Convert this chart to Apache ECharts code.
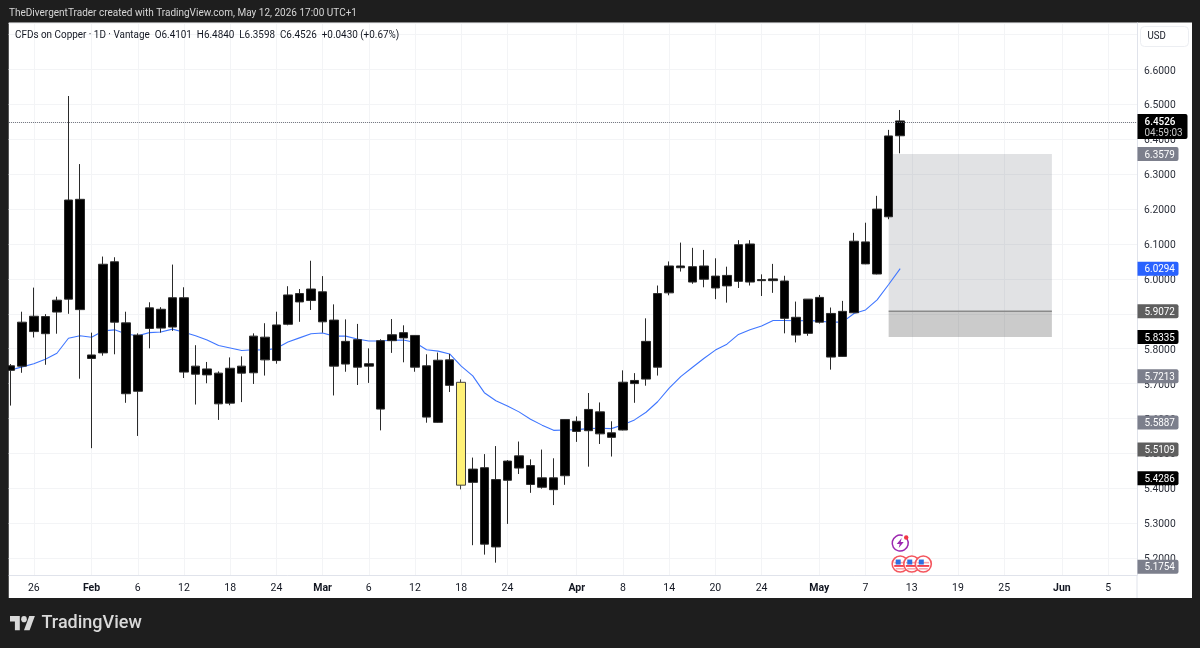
<!DOCTYPE html>
<html>
<head>
<meta charset="utf-8">
<style>html,body{margin:0;padding:0;background:#1e1e1e}#chart{width:1200px;height:648px}</style>
<script src="https://cdn.jsdelivr.net/npm/echarts@6/dist/echarts.min.js"></script>
</head>
<body>
<div id="chart"></div>
<script>
// Daily copper CFD candles, 20-period average, session tags and trade zones.
const categories = [
  'Jan 22','Jan 23','Jan 26','Jan 27','Jan 28','Jan 29','Jan 30',
  'Feb 2','Feb 3','Feb 4','Feb 5','Feb 6','Feb 9','Feb 10','Feb 11','Feb 12','Feb 13',
  'Feb 16','Feb 17','Feb 18','Feb 19','Feb 20','Feb 23','Feb 24','Feb 25','Feb 26','Feb 27',
  'Mar 2','Mar 3','Mar 4','Mar 5','Mar 6','Mar 9','Mar 10','Mar 11','Mar 12','Mar 13',
  'Mar 16','Mar 17','Mar 18','Mar 19','Mar 20','Mar 23','Mar 24','Mar 25','Mar 26','Mar 27',
  'Mar 30','Mar 31','Apr 1','Apr 2','Apr 6','Apr 7','Apr 8','Apr 9','Apr 10',
  'Apr 13','Apr 14','Apr 15','Apr 16','Apr 17','Apr 20','Apr 21','Apr 22','Apr 23','Apr 24',
  'Apr 27','Apr 28','Apr 29','Apr 30','May 1','May 4','May 5','May 6','May 7','May 8',
  'May 11','May 12','May 13','May 14','May 15','May 18','May 19','May 20','May 21','May 22',
  'May 25','May 26','May 27','May 28','May 29','Jun 1','Jun 2','Jun 3','Jun 4','Jun 5','Jun 8','Jun 9'
];

const tickLabels = {
  'Jan 26':'26','Feb 2':'Feb','Feb 6':'6','Feb 12':'12','Feb 18':'18','Feb 24':'24',
  'Mar 2':'Mar','Mar 6':'6','Mar 12':'12','Mar 18':'18','Mar 24':'24',
  'Apr 1':'Apr','Apr 8':'8','Apr 14':'14','Apr 20':'20','Apr 24':'24',
  'May 1':'May','May 7':'7','May 13':'13','May 19':'19','May 25':'25',
  'Jun 1':'Jun','Jun 5':'5'
};
const monthLabels = ['Feb','Mar','Apr','May','Jun'];

const opens = [5.738,5.750,5.849,5.892,5.905,5.942,6.228,5.772,5.788,6.049,5.874,5.678,5.858,5.859,5.862,5.946,5.750,
  5.742,5.730,5.644,5.730,5.836,5.768,5.766,5.870,5.934,5.938,5.963,5.882,5.821,5.747,5.750,5.823,5.840,5.831,5.838,
  5.604,5.767,5.695,5.7037,5.417,5.459,5.425,5.423,5.458,5.465,5.403,5.396,5.436,5.563,5.565,5.556,5.546,5.567,5.700,
  5.713,5.747,5.960,6.037,5.991,5.999,6.008,5.980,5.993,5.991,5.998,5.995,5.994,5.890,5.844,5.876,5.776,5.778,5.903,
  6.043,6.014,6.178,6.4101];
const closes = [5.751,5.876,5.893,5.843,5.939,6.226,5.912,5.782,6.042,5.876,5.671,5.839,5.917,5.913,5.946,5.733,5.727,
  5.725,5.642,5.744,5.750,5.731,5.833,5.868,5.954,5.958,5.971,5.877,5.750,5.756,5.826,5.757,5.627,5.823,5.846,5.747,
  5.751,5.589,5.768,5.409,5.455,5.240,5.232,5.478,5.493,5.411,5.430,5.430,5.597,5.592,5.626,5.619,5.559,5.704,5.709,
  5.821,5.958,6.037,6.032,6.035,6.037,5.974,6.010,6.098,6.100,5.995,6.000,5.887,5.839,5.942,5.947,5.901,5.907,6.108,
  6.106,6.200,6.4096,6.4526];
const lows = [5.637,5.731,5.832,5.754,5.843,5.900,5.714,5.515,5.780,5.784,5.645,5.550,5.801,5.846,5.851,5.716,5.640,
  5.701,5.596,5.638,5.647,5.699,5.723,5.757,5.867,5.877,5.911,5.846,5.666,5.734,5.696,5.702,5.566,5.788,5.761,5.734,
  5.588,5.588,5.676,5.397,5.237,5.210,5.187,5.298,5.441,5.387,5.399,5.352,5.410,5.533,5.462,5.527,5.491,5.566,5.645,
  5.694,5.723,5.953,6.021,5.986,5.976,5.942,5.932,5.974,5.981,5.951,5.960,5.844,5.818,5.837,5.872,5.740,5.777,5.902,
  6.042,6.013,6.171,6.3598];
const highs = [5.756,5.906,5.975,5.899,5.949,6.524,6.329,5.846,6.064,6.062,5.906,5.844,5.933,5.919,6.041,5.976,5.810,
  5.762,5.735,5.775,5.778,5.844,5.873,5.906,5.979,5.971,6.052,6.008,5.927,5.884,5.871,5.801,5.827,5.885,5.867,5.839,
  5.784,5.789,5.785,5.712,5.488,5.498,5.521,5.481,5.534,5.483,5.511,5.486,5.598,5.606,5.673,5.646,5.592,5.738,5.730,
  5.887,5.981,6.050,6.104,6.089,6.083,6.059,6.035,6.111,6.111,6.013,6.043,6.009,5.935,5.942,5.954,5.918,5.937,6.132,
  6.161,6.238,6.427,6.4840];
const movingAverage = [5.739,5.748,5.757,5.770,5.787,5.830,5.837,5.833,5.851,5.854,5.842,5.837,5.846,5.848,5.856,5.847,5.837,
  5.825,5.809,5.802,5.795,5.797,5.796,5.801,5.819,5.831,5.843,5.845,5.836,5.836,5.828,5.822,5.822,5.824,5.825,5.818,
  5.797,5.793,5.785,5.750,5.722,5.674,5.651,5.636,5.619,5.598,5.581,5.566,5.567,5.568,5.571,5.572,5.571,5.582,5.596,
  5.618,5.648,5.687,5.720,5.746,5.772,5.796,5.813,5.841,5.854,5.865,5.881,5.881,5.880,5.881,5.879,5.876,5.876,5.901,
  5.911,5.940,5.984,6.0294];

const highlightedBar = 39;
const lastPrice = 6.4526;
const countdown = '04:59:03';
const priceLevels = [6.3579,6.0294,5.9072,5.8335,5.7213,5.5887,5.5109,5.4286,5.1754];
const priceColors = ['#7c7f8c','#2962ff','#5f5f5f','#000000','#7c7f8c','#7c7f8c','#5f5f5f','#000000','#7c7f8c'];
const zoneBars = [76, 90];
const zoneTop = 6.3579, zoneMid = 5.9072, zoneBottom = 5.8335;
const boltEvent = [[77, 5.243]];
const flagEvents = [[77, 5.183],[78, 5.183],[79, 5.183]];

const FONT = 'Roboto, "Noto Sans", sans-serif';
const isLabelled = (i, name) => tickLabels[name] !== undefined;
const candleData = opens.map((o, i) => {
  const v = [o, closes[i], lows[i], highs[i]];
  return i === highlightedBar
    ? { value: v, itemStyle: { color: '#fff176', color0: '#fff176', borderColor: '#444', borderColor0: '#444' } }
    : v;
});

const chart = echarts.init(document.getElementById('chart'), null, { renderer: 'canvas' });
chart.setOption({
  animation: false,
  backgroundColor: '#1e1e1e',
  textStyle: { fontFamily: FONT },
  grid: { left: 4.92, width: 1132.1, top: 23, height: 552 },
  xAxis: {
    type: 'category',
    data: categories,
    boundaryGap: true,
    axisLine: { lineStyle: { color: '#e0e3eb' } },
    axisTick: { show: false },
    axisLabel: {
      interval: isLabelled,
      margin: 8,
      color: '#131722',
      fontSize: 10.5,
      formatter: name => {
        const t = tickLabels[name];
        return monthLabels.includes(t) ? '{m|' + t + '}' : t;
      },
      rich: { m: { fontWeight: 'bold', fontSize: 10.5, color: '#131722', fontFamily: FONT } }
    },
    splitLine: { show: true, interval: isLabelled, alignWithLabel: true, lineStyle: { color: '#f3f4f6' } }
  },
  yAxis: {
    type: 'value',
    position: 'right',
    min: 5.1516,
    max: 6.7332,
    splitNumber: 16,
    scale: true,
    axisLine: { show: true, lineStyle: { color: '#e0e3eb' } },
    axisTick: { show: false },
    axisLabel: {
      margin: 7,
      showMinLabel: false,
      showMaxLabel: false,
      formatter: v => '{p|' + v.toFixed(4) + '}',
      rich: { p: { color: '#2a2e39', fontSize: 10.3, fontFamily: FONT, padding: [3, 0, 0, 0] } }
    },
    splitLine: { show: true, lineStyle: { color: '#f3f4f6' } }
  },
  graphic: [
    { type: 'rect', z: -1, shape: { x: 8.5, y: 22.5, width: 1183.5, height: 575.5 }, style: { fill: '#ffffff' } },
    { type: 'rect', z: 100, shape: { x: 0, y: 22, width: 8.5, height: 576 }, style: { fill: '#1e1e1e' } },
    { type: 'line', z: 100, shape: { x1: 1137, y1: 575, x2: 1137, y2: 598 }, style: { stroke: '#e0e3eb', lineWidth: 1 } },
    { type: 'text', z: 100, x: 9, y: 13, scaleX: 0.87, style: { text: 'TheDivergentTrader created with TradingView.com, May 12, 2026 17:00 UTC+1', fill: '#d6d6d6', font: '11.5px ' + FONT, textVerticalAlign: 'middle' } },
    { type: 'text', z: 100, x: 15, y: 35.5, scaleX: 0.9, style: { text: 'CFDs on Copper · 1D · Vantage  O6.4101  H6.4840  L6.3598  C6.4526  +0.0430 (+0.67%)', fill: '#131722', font: '11px ' + FONT, textVerticalAlign: 'middle' } },
    { type: 'rect', z: 100, shape: { x: 1140.5, y: 26.5, width: 48, height: 20, r: 4 }, style: { fill: '#ffffff', stroke: '#eceef2', lineWidth: 1 } },
    { type: 'text', z: 100, x: 1147.5, y: 36.5, scaleX: 0.88, style: { text: 'USD', fill: '#131722', font: '11px ' + FONT, textVerticalAlign: 'middle' } },
    { type: 'group', x: 10, y: 613, scaleX: 0.7, scaleY: 0.78, children: [
      { type: 'polygon', z: 100, shape: { points: [[14,22],[7,22],[7,11],[0,11],[0,4],[14,4]] }, style: { fill: '#d9d9d9' } },
      { type: 'polygon', z: 100, shape: { points: [[28,22],[20,22],[27.5,4],[35.5,4]] }, style: { fill: '#d9d9d9' } },
      { type: 'circle', z: 100, shape: { cx: 20, cy: 8, r: 4 }, style: { fill: '#d9d9d9' } }
    ] },
    { type: 'text', z: 100, x: 41.5, y: 623.5, style: { text: 'TradingView', fill: '#d9d9d9', font: '500 18px ' + FONT, textVerticalAlign: 'middle' } }
  ],
  series: [
    {
      // shaded entry and stop zones, anchored to bars and prices
      type: 'custom',
      z: 1,
      silent: true,
      data: [[zoneBars[0], zoneBars[1], zoneTop, zoneMid, zoneBottom]],
      encode: { x: [0, 1], y: [2, 3, 4] },
      renderItem: (params, api) => {
        const a = api.coord([api.value(0), api.value(2)]);
        const b = api.coord([api.value(1), api.value(3)]);
        const c = api.coord([api.value(1), api.value(4)]);
        const w = b[0] - a[0] + 1.5;
        return { type: 'group', children: [
          { type: 'rect', shape: { x: a[0], y: a[1], width: w, height: b[1] - a[1] }, style: { fill: 'rgba(120,123,134,0.22)' } },
          { type: 'rect', shape: { x: a[0], y: b[1], width: w, height: c[1] - b[1] }, style: { fill: 'rgba(70,70,70,0.28)' } },
          { type: 'line', shape: { x1: a[0], y1: b[1], x2: a[0] + w, y2: b[1] }, style: { stroke: '#8a8a8a', lineWidth: 1.5 } }
        ] };
      }
    },
    {
      type: 'line',
      z: 2,
      data: movingAverage,
      symbol: 'none',
      silent: true,
      lineStyle: { color: '#3f76ff', width: 1.1 }
    },
    {
      type: 'candlestick',
      z: 3,
      data: candleData,
      barWidth: 9,
      itemStyle: { color: '#000000', color0: '#000000', borderColor: '#2a2a2a', borderColor0: '#2a2a2a', borderWidth: 1 },
      markLine: {
        silent: true,
        symbol: 'none',
        label: { show: false },
        lineStyle: { color: '#6a6d78', type: [1, 1], width: 1 },
        data: [{ yAxis: lastPrice }]
      }
    },
    {
      // price tags on the scale
      type: 'custom',
      z: 10,
      silent: true,
      data: priceLevels.map((p, i) => [0, p, i]),
      encode: { x: 0, y: 1 },
      renderItem: (params, api) => {
        const y = api.coord([0, api.value(1)])[1];
        const p = api.value(1), i = api.value(2);
        return { type: 'group', children: [
          { type: 'rect', shape: { x: 1137.5, y: y - 7, width: 41, height: 14, r: [0, 2, 2, 0] }, style: { fill: priceColors[i] } },
          { type: 'text', x: 1144.5, y: y + 1, scaleX: 0.9, style: { text: p.toFixed(4), fill: '#ffffff', font: '11px ' + FONT, verticalAlign: 'middle' } }
        ] };
      }
    },
    {
      // live price tag with the bar countdown
      type: 'custom',
      z: 11,
      silent: true,
      data: [[0, lastPrice]],
      encode: { x: 0, y: 1 },
      renderItem: (params, api) => {
        const y = api.coord([0, api.value(1)])[1];
        return { type: 'group', children: [
          { type: 'rect', shape: { x: 1137.5, y: y - 7, width: 50, height: 25, r: [0, 2, 2, 0] }, style: { fill: '#000000' } },
          { type: 'text', x: 1144.5, y: y + 1, scaleX: 0.9, style: { text: lastPrice.toFixed(4), fill: '#ffffff', font: '500 11px ' + FONT, verticalAlign: 'middle' } },
          { type: 'text', x: 1144.5, y: y + 12.5, scaleX: 0.9, style: { text: countdown, fill: '#c8c8c8', font: '11px ' + FONT, verticalAlign: 'middle' } }
        ] };
      }
    },
    {
      // lightning event marker
      type: 'custom',
      z: 12,
      silent: true,
      data: boltEvent,
      encode: { x: 0, y: 1 },
      renderItem: (params, api) => {
        const c = api.coord([api.value(0), api.value(1)]);
        return { type: 'group', x: c[0], y: c[1], children: [
          { type: 'arc', shape: { cx: 0, cy: 0, r: 8, startAngle: -0.55, endAngle: -1.25, clockwise: true }, style: { stroke: '#9c27b0', fill: null, lineWidth: 1.5 } },
          { type: 'polygon', shape: { points: [[1.5,-5],[-3.5,1],[-0.5,1],[-1.5,5],[3.5,-1],[0.5,-1]] }, style: { fill: '#9c27b0' } },
          { type: 'circle', shape: { cx: 6, cy: -5.6, r: 2.2 }, style: { fill: '#f23645' } }
        ] };
      }
    },
    {
      // US economic calendar markers
      type: 'custom',
      z: 12,
      silent: true,
      data: flagEvents,
      encode: { x: 0, y: 1 },
      renderItem: (params, api) => {
        const c = api.coord([api.value(0), api.value(1)]);
        return { type: 'group', x: c[0], y: c[1], children: [
          { type: 'circle', shape: { cx: 0, cy: 0, r: 8 }, style: { fill: '#ffffff', stroke: '#f4575f', lineWidth: 1.6 } },
          { type: 'rect', shape: { x: -5.8, y: -2.2, width: 11.6, height: 1.6 }, style: { fill: '#f7a5ab' } },
          { type: 'rect', shape: { x: -6, y: 1, width: 12, height: 1.8 }, style: { fill: '#f23645' } },
          { type: 'rect', shape: { x: -4.5, y: 4, width: 9, height: 1.5 }, style: { fill: '#f7a5ab' } },
          { type: 'rect', shape: { x: -4.5, y: -4.5, width: 5, height: 5 }, style: { fill: '#2f6fe0' } }
        ] };
      }
    }
  ]
});
</script>
</body>
</html>
